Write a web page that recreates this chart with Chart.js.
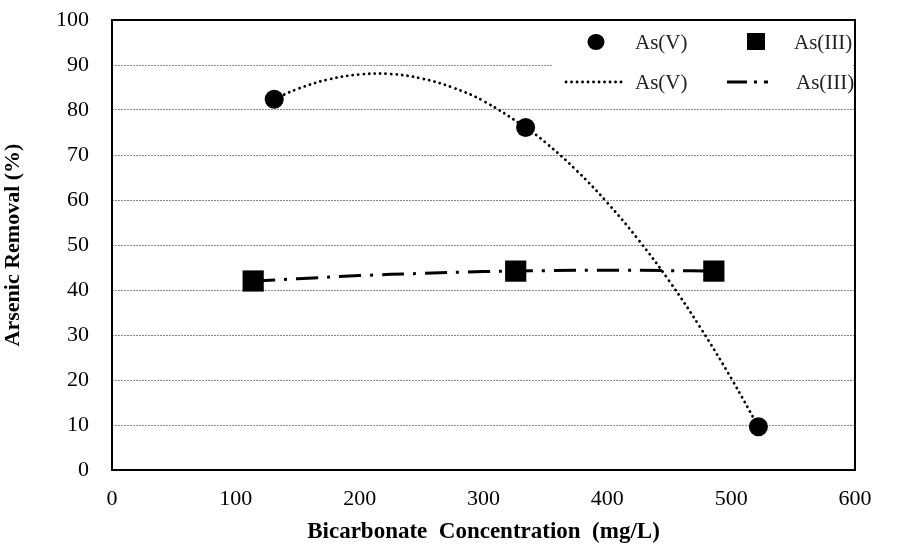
<!DOCTYPE html>
<html>
<head>
<meta charset="utf-8">
<script src="https://cdn.jsdelivr.net/npm/chart.js@4/dist/chart.umd.min.js"></script>
<style>
  html, body { margin: 0; padding: 0; background: #fff; }
  #wrap { width: 904px; height: 546px; }
</style>
</head>
<body>
<div id="wrap"><canvas id="removalChart" width="904" height="546"></canvas></div>
<script>
// measured points
const asVx = [131, 334, 522];
const asVy = [82.4, 76.1, 9.6];
const asIIIx = [114, 326, 486];
const asIIIy = [42.0, 44.2, 44.2];

// trend curves
const asVTrendX = [131, 150, 175, 200, 225, 250, 275, 300, 334, 350, 375, 400, 425, 450, 475, 500, 522];
const asVTrendY = [82.4, 84.7, 86.8, 87.9, 88.0, 87.0, 85.0, 82.0, 76.1, 72.8, 66.6, 59.4, 51.2, 42.0, 31.7, 20.4, 9.6];
const asIIITrendX = [114, 150, 200, 250, 300, 326, 350, 400, 450, 486];
const asIIITrendY = [42.0, 42.5, 43.2, 43.7, 44.1, 44.2, 44.3, 44.4, 44.3, 44.2];

const xTicks = [0, 100, 200, 300, 400, 500, 600];
const yTicks = [0, 10, 20, 30, 40, 50, 60, 70, 80, 90, 100];

const serif = 'Liberation Serif';
const toXY = (xs, ys) => xs.map((x, i) => ({ x, y: ys[i] }));

const frame = {
  id: 'frame',
  beforeDatasetsDraw(chart) {
    const { ctx, chartArea: a } = chart;
    ctx.save();
    ctx.strokeStyle = '#000';
    ctx.lineWidth = 2;
    ctx.strokeRect(a.left, a.top, a.right - a.left, a.bottom - a.top);
    ctx.restore();
  }
};

// legend sits inside the plot, top right, two rows
const boxLegend = {
  id: 'boxLegend',
  afterDraw(chart) {
    const { ctx, chartArea: a } = chart;
    const ds = chart.data.datasets;
    ctx.save();
    ctx.fillStyle = '#fff';
    ctx.fillRect(553, a.top + 2, a.right - 555, 84);
    ctx.font = '21px "' + serif + '"';
    ctx.textBaseline = 'middle';

    // row 1: markers
    ctx.fillStyle = '#000';
    ctx.beginPath();
    ctx.ellipse(596, 42, 8.5, 8, 0, 0, Math.PI * 2);
    ctx.fill();
    ctx.fillRect(747, 33, 18, 17);
    ctx.fillStyle = '#222';
    ctx.fillText(ds[2].label, 635, 43);
    ctx.fillText(ds[3].label, 794, 43);

    // row 2: trend lines
    ctx.strokeStyle = '#000';
    ctx.lineCap = 'round';
    ctx.lineWidth = ds[0].borderWidth;
    ctx.setLineDash(ds[0].borderDash);
    ctx.beginPath(); ctx.moveTo(566, 82); ctx.lineTo(624, 82); ctx.stroke();
    ctx.lineCap = 'butt';
    ctx.lineWidth = ds[1].borderWidth;
    ctx.setLineDash([20, 7, 3, 7, 4]);
    ctx.beginPath(); ctx.moveTo(727, 82); ctx.lineTo(787, 82); ctx.stroke();
    ctx.setLineDash([]);
    ctx.fillText(ds[0].label, 635, 83);
    ctx.fillText(ds[1].label, 796, 83);
    ctx.restore();
  }
};

new Chart(document.getElementById('removalChart'), {
  type: 'scatter',
  data: {
    datasets: [
      { label: 'As(V)', data: toXY(asVTrendX, asVTrendY), showLine: true, pointRadius: 0,
        borderColor: '#000', borderWidth: 2.8, borderDash: [0.1, 5.4], borderCapStyle: 'round',
        tension: 0.4, order: 3 },
      { label: 'As(III)', data: toXY(asIIITrendX, asIIITrendY), showLine: true, pointRadius: 0,
        borderColor: '#000', borderWidth: 3, borderDash: [22, 9, 3, 9], tension: 0.4, order: 3 },
      { label: 'As(V)', data: toXY(asVx, asVy), pointStyle: 'circle', pointRadius: 9.5,
        backgroundColor: '#000', borderColor: '#000', borderWidth: 0, order: 1 },
      { label: 'As(III)', data: toXY(asIIIx, asIIIy), pointStyle: 'rect', pointRadius: 15,
        backgroundColor: '#000', borderColor: '#000', borderWidth: 0, order: 1 }
    ]
  },
  options: {
    responsive: false, animation: false,
    layout: { padding: { top: 20, right: 49, left: 0, bottom: 0 } },
    plugins: { legend: { display: false }, tooltip: { enabled: false } },
    scales: {
      x: {
        type: 'linear', min: 0, max: 600,
        afterBuildTicks: s => { s.ticks = xTicks.map(v => ({ value: v })); },
        afterFit: s => { s.height = 76; s.paddingLeft = 0; s.paddingRight = 0; },
        grid: { drawOnChartArea: false, drawTicks: false },
        border: { display: false },
        ticks: { color: '#000', padding: 16, font: { family: serif, size: 22 } },
        title: { display: true, text: 'Bicarbonate  Concentration  (mg/L)', color: '#000',
          padding: { top: 4, bottom: 0 }, font: { family: serif, size: 23, weight: 'bold' } }
      },
      y: {
        min: 0, max: 100,
        afterBuildTicks: s => { s.ticks = yTicks.map(v => ({ value: v })); },
        afterFit: s => { s.width = 112; s.paddingTop = 0; s.paddingBottom = 0; },
        grid: { color: '#8a8a8a', lineWidth: 1, drawTicks: false },
        border: { display: false, dash: [2, 1] },
        ticks: { color: '#000', padding: 23, font: { family: serif, size: 22 } },
        title: { display: true, text: 'Arsenic Removal (%)', color: '#000',
          padding: { top: 0, bottom: 6 }, font: { family: serif, size: 22, weight: 'bold' } }
      }
    }
  },
  plugins: [frame, boxLegend]
});
</script>
</body>
</html>
